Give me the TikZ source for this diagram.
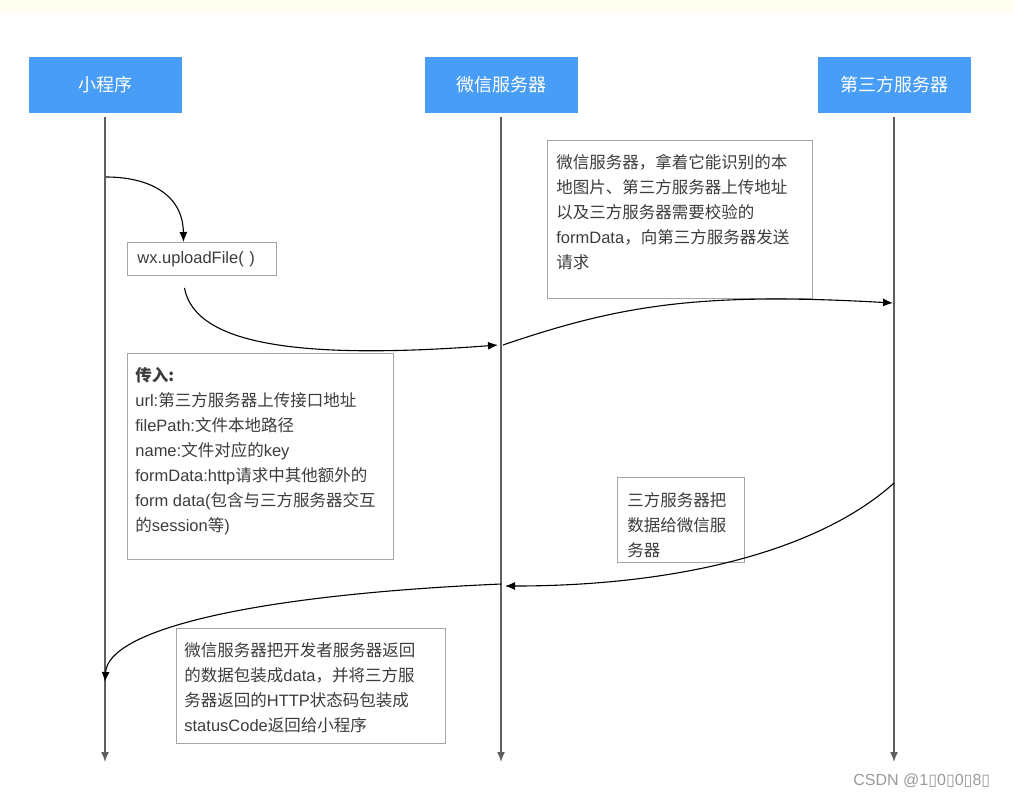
\documentclass[tikz,border=0pt]{standalone}
\usepackage{fontspec}
\setmainfont{Noto Sans CJK SC}
\newfontfamily\lat{Liberation Sans}
\newfontfamily\sym{DejaVu Sans}
\usetikzlibrary{arrows.meta}
\definecolor{wxblue}{RGB}{72,157,246}
\definecolor{band}{RGB}{255,254,240}
\definecolor{txtgray}{RGB}{60,60,60}
\definecolor{boxgray}{RGB}{165,165,165}
\definecolor{lifegray}{RGB}{95,95,95}
\begin{document}
\begin{tikzpicture}[x=1pt, y=-1pt, thick]

	\tikzstyle{actor}=[rectangle, fill=wxblue, text=white, minimum width=153pt, minimum height=56pt, font=\fontsize{18}{22}\selectfont]
	\tikzstyle{note}=[rectangle, draw=boxgray, line width=0.9pt, anchor=north west]
	\tikzstyle{words}=[anchor=north west, align=left, inner sep=0pt, text=txtgray, font=\fontsize{16.5}{25}\selectfont]
	\tikzstyle{life}=[draw=lifegray, line width=1.5pt, -{Latex[length=10pt,width=8pt]}]
	\tikzstyle{msg}=[draw=black, line width=1.1pt, -{Latex[length=10pt,width=8pt]}]

	\useasboundingbox (0,0) rectangle (1014,796);
	\fill[band] (0,0) rectangle (1014,13);

	% actors and lifelines
	\node[actor] (mini) at (105,85) {小程序};
	\node[actor] (wxsrv) at (501,85) {微信服务器};
	\node[actor] (third) at (894,85) {第三方服务器};

	\coordinate (miniend) at (105,762);
	\coordinate (wxend) at (501,762);
	\coordinate (thirdend) at (894,762);
	\draw[life] ([yshift=-4pt]mini.south) -- (miniend);
	\draw[life] ([yshift=-4pt]wxsrv.south) -- (wxend);
	\draw[life] ([yshift=-4pt]third.south) -- (thirdend);

	% notes
	\node[note, minimum width=149pt, minimum height=33pt, text width=129pt, inner xsep=10pt, align=left, text=txtgray, font=\fontsize{16.5}{20}\selectfont] (upload) at (127,242) {\lat wx.uploadFile( )};

	\node[note, minimum width=265pt, minimum height=158pt] (reqbox) at (547,140) {};
	\node[words] (reqtext) at (556,154) {微信服务器，拿着它能识别的本\\地图片、第三方服务器上传地址\\以及三方服务器需要校验的\\{\lat formData}，向第三方服务器发送\\请求};

	\node[note, minimum width=266pt, minimum height=206pt] (argbox) at (127,353) {};
	\node[words] (argtext) at (135,367) {{\bfseries 传入:}\\{\lat url:}第三方服务器上传接口地址\\{\lat filePath:}文件本地路径\\{\lat name:}文件对应的{\lat key}\\{\lat formData:http}请求中其他额外的\\{\lat form data(}包含与三方服务器交互\\的{\lat session}等{\lat )}};

	\node[note, minimum width=127pt, minimum height=85pt] (backbox) at (617,477) {};
	\node[words] (backtext) at (627,492) {三方服务器把\\数据给微信服\\务器};

	\node[note, minimum width=269pt, minimum height=115pt] (retbox) at (176,628) {};
	\node[words] (rettext) at (184,642) {微信服务器把开发者服务器返回\\的数据包装成{\lat data}，并将三方服\\务器返回的{\lat HTTP}状态码包装成\\{\lat statusCode}返回给小程序};

	% messages
	\coordinate (call) at (106,177);
	\coordinate (wxin) at (498,345);
	\coordinate (wxout) at (503,345);
	\coordinate (thirdin) at (893,303);
	\coordinate (thirdout) at (894,483);
	\coordinate (wxback) at (505,586);
	\coordinate (wxret) at (501,584);
	\coordinate (miniin) at (105,682);

	\draw[msg] (call) .. controls (150,177) and (183,195) .. ([xshift=-18.5pt]upload.north);
	\draw[msg] ([xshift=-17.5pt,yshift=-12pt]upload.south) .. controls (195,345) and (300,360) .. (wxin);
	\draw[msg] (wxout) .. controls (620,305) and (700,292) .. (thirdin);
	\draw[msg] (thirdout) .. controls (820,550) and (680,586) .. (wxback);
	\draw[msg] (wxret) .. controls (250,595) and (108,630) .. (miniin);

	\node[anchor=west, inner sep=0pt, text=black!40, font=\fontsize{16}{18}\selectfont] (mark) at (853,781) {\lat CSDN @1{\sym ▯}0{\sym ▯}0{\sym ▯}8{\sym ▯}};

\end{tikzpicture}
\end{document}
